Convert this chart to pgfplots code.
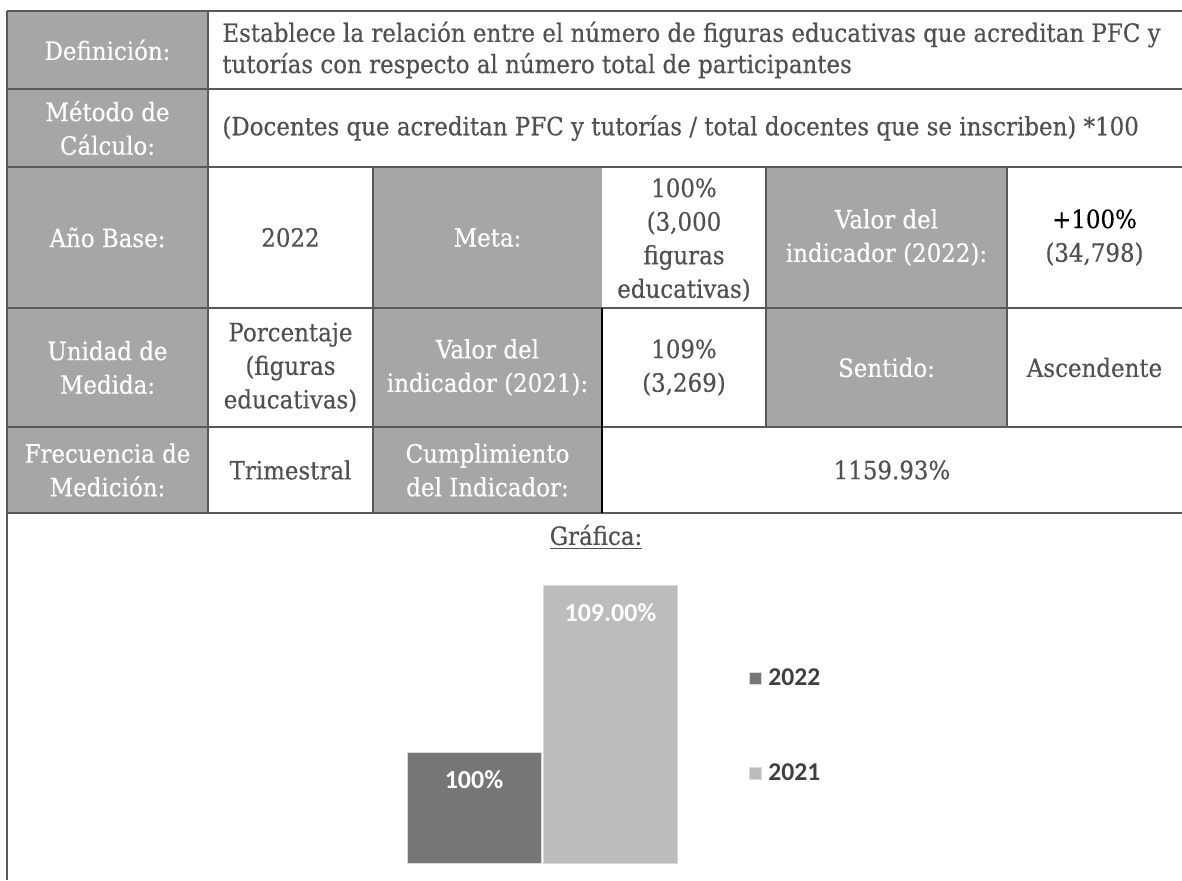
\documentclass[border=0pt]{standalone}
\usepackage{fontspec}
\usepackage{pgfplots}
\pgfplotsset{compat=1.18}
\setmainfont{DejaVu Serif}[FakeStretch=0.91, FakeBold=0.4]
\newfontfamily\carlito{Carlito}

\definecolor{hdr}{HTML}{A6A6A6}
\definecolor{rule}{HTML}{595959}
\definecolor{txt}{HTML}{505050}
\definecolor{barA}{HTML}{767676}
\definecolor{barB}{HTML}{BCBCBC}
\definecolor{legtxt}{HTML}{404040}

\begin{document}
\begin{tikzpicture}
\begin{scope}[x=0.5pt,y=-0.5pt,
  every node/.style={inner sep=0pt, align=center, font=\fontsize{12.6}{16.8}\selectfont},
  h/.style={text=white}, c/.style={text=txt}]
\useasboundingbox (0,0) rectangle (1182,880);
% grey label cells
\fill[hdr] (7,11) rectangle (208,513);
\fill[hdr] (373,167) rectangle (602,513);
\fill[hdr] (766,167) rectangle (1007,427);
% rules
\begin{scope}[draw=rule, line width=0.7pt]
\foreach \yy in {11,89,167,308,427,513} \draw (7,\yy) -- (1182,\yy);
\draw (7,11) -- (7,880);
\draw (208,11) -- (208,513);
\draw (373,167) -- (373,513);
\draw (766,167) -- (766,427);
\draw (1007,167) -- (1007,427);
\end{scope}
\draw[black, line width=0.7pt] (602,308) -- (602,513);

% row 1
\node[h] at (107.5,50) {Definición:};
\node[c, anchor=west, align=left, font=\fontsize{12.6}{15.6}\selectfont] at (222,50) {Establece la relación entre el número de figuras educativas que acreditan PFC y\\tutorías con respecto al número total de participantes};
% row 2
\node[h] at (107.5,128) {Método de\\Cálculo:};
\node[c, anchor=west, align=left] at (222,128) {(Docentes que acreditan PFC y tutorías / total docentes que se inscriben) *100};
% row 3
\node[h] at (107.5,237.5) {Año Base:};
\node[c] at (290.5,237.5) {2022};
\node[h] at (487.5,237.5) {Meta:};
\node[c] at (684,240) {100\%\\(3,000\\figuras\\educativas)};
\node[h] at (886.5,237.5) {Valor del\\indicador (2022):};
\node[c] at (1094.5,237.5) {\textcolor{black}{+100\%}\\(34,798)};
% row 4
\node[h] at (107.5,367.5) {Unidad de\\Medida:};
\node[c] at (290.5,367.5) {Porcentaje\\(figuras\\educativas)};
\node[h] at (487.5,367.5) {Valor del\\indicador (2021):};
\node[c] at (684,367.5) {109\%\\(3,269)};
\node[h] at (886.5,367.5) {Sentido:};
\node[c] at (1094.5,367.5) {Ascendente};
% row 5
\node[h] at (107.5,470) {Frecuencia de\\Medición:};
\node[c] at (290.5,470) {Trimestral};
\node[h] at (487.5,470) {Cumplimiento\\del Indicador:};
\node[c] at (892,470) {1159.93\%};
% chart title
\node[c] at (596,537) {\underline{Gráfica:}};
\end{scope}

\begin{axis}[
  at={(202.875pt,-431.5pt)}, anchor=south west,
  width=136.5pt, height=147.8pt, scale only axis,
  xmin=-0.5, xmax=1.5, ymin=94.07, ymax=110,
  hide axis,
  ybar, bar width=67pt, bar shift=0pt,
  point meta=explicit symbolic,
  nodes near coords,
  every node near coord/.append style={anchor=center, yshift=-13.5pt,
    font=\carlito\bfseries\fontsize{13}{15}\selectfont, text=white},
  every axis plot post/.append style={
    legend image code/.code={\fill[##1] (0pt,-3pt) rectangle (6pt,3pt);
      \path (9pt,0pt);}},
  legend style={draw=none, fill=none, inner sep=0pt,
    at={(axis description cs:1.257,0.4635)}, anchor=west,
    font=\carlito\bfseries\fontsize{12.8}{15}\selectfont, text=legtxt,
    row sep=38pt, nodes={inner sep=0pt}},
  legend cell align=left,
]
\addplot[fill=barA, draw=white!85!black, line width=0.5pt]
  coordinates {(0,100) [100\%]};
\addlegendentry{2022}
\addplot[fill=barB, draw=white!85!black, line width=0.5pt]
  coordinates {(1,109) [109.00\%]};
\addlegendentry{2021}
\end{axis}
\end{tikzpicture}
\end{document}
